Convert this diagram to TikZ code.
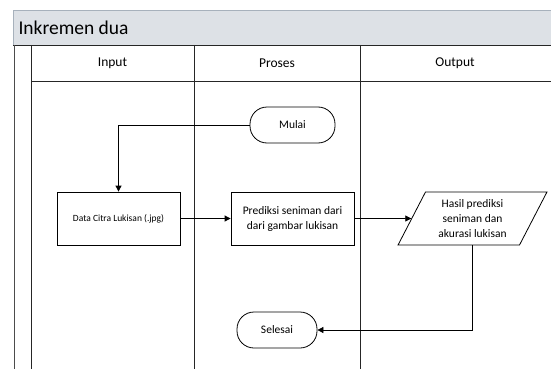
\documentclass[tikz,border=0pt]{standalone}
\usepackage{fontspec}
\setmainfont{Carlito}
\usepackage{xcolor}
\usetikzlibrary{positioning, calc, arrows.meta, shapes.geometric}

\definecolor{bandfill}{HTML}{DDE1E6}
\definecolor{bandline}{HTML}{A7B1BC}

\tikzset{
  lane/.style={line width=0.9pt, black!85},
  terminal/.style={draw, line width=0.8pt, rounded corners=17pt, minimum height=36pt, font=\fontsize{11.5}{13}\selectfont},
  process/.style={draw, line width=0.8pt, minimum width=123pt, minimum height=53pt, align=center, font=\fontsize{11.5}{15}\selectfont},
  io/.style={draw, line width=0.8pt, trapezium, trapezium left angle=66, trapezium right angle=114,
    trapezium stretches=true, minimum width=149pt, minimum height=53pt, align=center, inner xsep=0pt,
    font=\fontsize{11.5}{15}\selectfont},
  flow/.style={line width=0.8pt, -{Triangle[length=6pt,width=6pt]}}
}

\begin{document}
\begin{tikzpicture}[x=1pt,y=-1pt]

        \useasboundingbox (0,0) rectangle (551,369);

        % Title band
        \fill[bandfill] (13,10) rectangle (560,45);
        \draw[bandline, line width=0.9pt] (13,45) -- (13,10) -- (560,10);
        \draw[lane] (13,45) -- (560,45);
        \node[anchor=west, font=\fontsize{19.5}{22}\selectfont] (title) at (15,28) {Inkremen dua};

        % Swimlane lines
        \draw[lane, black!70] (14,45) -- (14,369);
        \draw[lane] (31,45) -- (31,369);
        \draw[lane] (194,45) -- (194,369);
        \draw[lane] (360,45) -- (360,369);
        \draw[lane] (31,81) -- (560,81);

        % Lane headers
        \node[font=\fontsize{13.5}{15}\selectfont] (hinput) at (112.5,63) {Input};
        \node[font=\fontsize{13.5}{15}\selectfont] (hproses) at (277,63) {Proses};
        \node[font=\fontsize{13.5}{15}\selectfont] (houtput) at (455,63) {Output};

        % Flow nodes
        \node[terminal, fill=white, minimum width=85pt] (mulai) at (292.5,125) {Mulai};
        \node[process, fill=white, font=\fontsize{9.5}{11}\selectfont] (data) at (118.5,218.5) {Data Citra Lukisan (.jpg)};
        \node[process, fill=white] (prediksi) at (292.5,218.5) {Prediksi seniman dari\\dari gambar lukisan};
        \node[io, fill=white] (hasil) at (472.5,218.5) {Hasil prediksi\\seniman dan\\akurasi lukisan};
        \node[terminal, fill=white, minimum width=80pt] (selesai) at (277,330) {Selesai};

        % Connectors
        \draw[flow] (mulai.west) -| (data.north);
        \draw[flow] (data.east) -- (prediksi.west);
        \draw[flow] (prediksi.east) -- (hasil.west);
        \draw[flow] (hasil.south) |- (selesai.east);

\end{tikzpicture}
\end{document}
